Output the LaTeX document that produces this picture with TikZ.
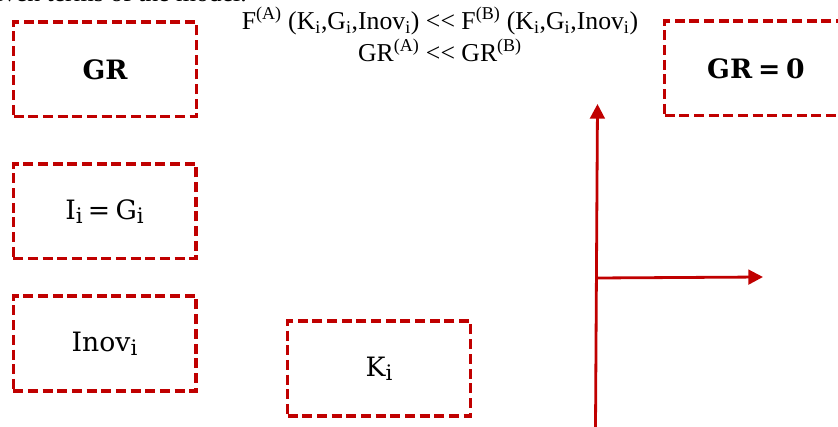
\documentclass[tikz,border=0pt]{standalone}
\usepackage{fontspec}
\setmainfont{Liberation Serif}
\newfontfamily\boxfont{DejaVu Serif}
\usetikzlibrary{arrows.meta}
\definecolor{darkred}{HTML}{C00000}
\newcommand{\lowi}{\raisebox{-0.3ex}{\scalebox{0.8}{i}}}
\tikzset{
    hopnet/.style={draw=darkred, line width=2.5pt, dash pattern=on 7.5pt off 3.5pt,
        minimum width=137pt, minimum height=71pt, inner sep=0pt,
        font=\boxfont\fontsize{20}{24}\selectfont},
    truc/.style={darkred, line width=2.1pt},
    dong/.style={font=\fontsize{19.3}{23}\selectfont, inner sep=0pt}
}
\begin{document}
\begin{tikzpicture}[>={Triangle[length=11pt,width=11pt]}, x=0.75pt, y=-0.75pt]
    \useasboundingbox (0,0) rectangle (838,427);
    
    % 1. Dòng chữ phía trên (bị cắt)
    \node[dong, anchor=base east] (loi) at (247,1.5) {given terms of the model.};
    
    % 2. Điều kiện
    \node[dong] (dk1) at (440,21)
        {F\textsuperscript{(A)} (K\textsubscript{i},G\textsubscript{i},Inov\textsubscript{i}) <{}< F\textsuperscript{(B)} (K\textsubscript{i},G\textsubscript{i},Inov\textsubscript{i})};
    \node[dong] (dk2) at (440,50)
        {GR\textsuperscript{(A)} <{}< GR\textsuperscript{(B)}};
    
    % 3. Các hộp
    \node[hopnet] (gr) at (105,69.5) {\bfseries GR};
    \node[hopnet] (ig) at (104.5,211.5) {I\lowi\hspace{0.2em}=\hspace{0.2em}G\lowi};
    \node[hopnet] (inov) at (104.5,343.5) {Inov\lowi};
    \node[hopnet] (k) at (379,368.5) {K\lowi};
    \node[hopnet] (grkhong) at (756,68.5) {\bfseries GR\hspace{0.22em}=\hspace{0.22em}0};
    
    % 4. Hệ trục
    \coordinate (goc) at (596,278);
    \coordinate (day) at (595.5,427);
    \coordinate (dinh) at (597.5,104);
    \coordinate (phai) at (763,277);
    \draw[truc, ->] (day) -- (dinh);
    \draw[truc, ->] (goc) -- (phai);
\end{tikzpicture}
\end{document}
